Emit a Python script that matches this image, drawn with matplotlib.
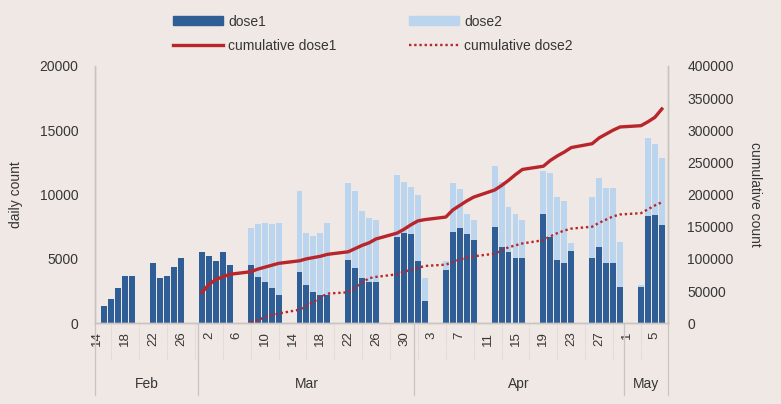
import numpy as np
import pandas as pd
import matplotlib
matplotlib.use('Agg')
import matplotlib.pyplot as plt
import matplotlib.dates as mdates
from matplotlib.transforms import blended_transform_factory
from matplotlib.lines import Line2D
from matplotlib.patches import Patch

# ---- data --------------------------------------------------------------
days = pd.bdate_range('2021-02-15', '2021-05-06')   # weekdays only

dose1 = [1300, 1900, 2700, 3700, 3700,
         4700, 3500, 3700, 4400, 5100,
         5500, 5200, 4800, 5500, 4500,
         4500, 3600, 3200, 2700, 2200,
         4000, 3000, 2400, 2200, 2200,
         4900, 4300, 3500, 3200, 3200,
         6700, 7000, 6900, 4800, 1700,
         4100, 7100, 7400, 6900, 6500,
         7500, 5900, 5500, 5100, 5100,
         8500, 6700, 4900, 4700, 5600,
         5100, 5900, 4700, 4700, 2800,
         2800, 8300, 8400, 7600]

dose2 = [0, 0, 0, 0, 0,
         0, 0, 0, 0, 0,
         0, 0, 0, 0, 0,
         2900, 4100, 4600, 5000, 5600,
         6300, 4000, 4400, 4800, 5600,
         6000, 6000, 5200, 5000, 4800,
         4800, 4000, 3700, 5200, 1800,
         700, 3800, 3000, 1600, 1500,
         4700, 5100, 3500, 3400, 2900,
         3300, 5000, 4900, 4800, 600,
         4700, 5400, 5800, 5800, 3500,
         200, 6100, 5500, 5200]

# cumulative totals, from 1 Mar (dose1) and 8 Mar (dose2)
cum1 = [48000, 60000, 68000, 72000, 76000,
        80000, 84000, 87000, 90000, 93000,
        97000, 100000, 102000, 104000, 107000,
        111000, 116000, 121000, 125000, 131000,
        140000, 146000, 153000, 159000, 161000,
        165000, 176000, 183000, 190000, 196000,
        207000, 214000, 222000, 231000, 239000,
        244000, 253000, 260000, 266000, 273000,
        279000, 288000, 294000, 300000, 305000,
        307000, 313000, 320000, 333000]

cum2 = [2000, 5000, 9000, 12000, 15000,
        21000, 27000, 33000, 40000, 46000,
        48000, 56000, 63000, 70000, 72000,
        76000, 80000, 83000, 86000, 89000,
        91000, 95000, 99000, 102000, 104000,
        108000, 113000, 118000, 121000, 124000,
        129000, 135000, 140000, 144000, 147000,
        150000, 156000, 161000, 166000, 169000,
        171000, 177000, 183000, 188000]

tick_days = pd.date_range('2021-02-14', '2021-05-05', freq='4D')
months = ['Feb', 'Mar', 'Apr', 'May']
month_starts = ['2021-03-01', '2021-04-01', '2021-05-01']

# ---- style ---------------------------------------------------------------
BG = '#EFE8E4'
DARK = '#2F5D95'
LIGHT = '#BCD5EE'
RED = '#B8262C'
INK = '#363636'
SPINE = '#C9C4C1'

plt.rcParams['font.family'] = ['Liberation Sans', 'DejaVu Sans']
plt.rcParams['font.size'] = 10

x = mdates.date2num(days)
c1_x = x[len(x) - len(cum1):]
c2_x = x[len(x) - len(cum2):]

fig = plt.figure(figsize=(7.81, 4.04), dpi=100, facecolor=BG)
ax = fig.add_axes([0.122, 0.200, 0.733, 0.637], facecolor=BG)
ax2 = ax.twinx()

ax.bar(x, dose1, width=0.85, color=DARK, linewidth=0, zorder=2)
ax.bar(x, dose2, width=0.85, bottom=dose1, color=LIGHT, linewidth=0, zorder=2)

ax2.plot(c1_x, cum1, color=RED, lw=2.4, solid_joinstyle='round')
ax2.plot(c2_x, cum2, color=RED, lw=1.7, ls=(0, (1, 1.2)))

x0 = mdates.date2num(pd.Timestamp('2021-02-14')) - 0.3
x1 = mdates.date2num(pd.Timestamp('2021-05-06')) + 0.85
ax.set_xlim(x0, x1)
ax.set_ylim(0, 20000)
ax2.set_ylim(0, 400000)
ax.set_yticks(range(0, 20001, 5000))
ax2.set_yticks(range(0, 400001, 50000))

for a in (ax, ax2):
    a.spines['top'].set_visible(False)
    for s in ('left', 'right', 'bottom'):
        a.spines[s].set_color(SPINE)
        a.spines[s].set_linewidth(1.0)
    a.tick_params(axis='y', length=0, colors=INK, labelsize=10)
ax.tick_params(axis='y', pad=12)
ax2.tick_params(axis='y', pad=14)

tx = mdates.date2num(tick_days)
ax.set_xticks(tx)
ax.set_xticklabels([str(d.day) for d in tick_days], rotation=90,
                   fontsize=9.5, color=INK)
ax.tick_params(axis='x', length=0, pad=6)

ax.set_ylabel('daily count', color=INK, fontsize=10, labelpad=12)
ax2.set_ylabel('cumulative count', color=INK, fontsize=10,
               rotation=270, labelpad=20)

# multi-level date axis: small separators and month blocks
trans = blended_transform_factory(ax.transData, ax.transAxes)
for t in tx[:-1] + 2:
    ax.plot([t, t], [0, -0.14], transform=trans, clip_on=False,
            color=SPINE, lw=0.6, ls=':')
edges = [x0] + [mdates.date2num(pd.Timestamp(m)) - 0.5 for m in month_starts] + [x1]
for e in edges:
    ax.plot([e, e], [0, -0.28], transform=trans, clip_on=False,
            color=SPINE, lw=0.9)
for name, a, b in zip(months, edges[:-1], edges[1:]):
    ax.text((a + b) / 2, -0.235, name, transform=trans, ha='center',
            va='center', fontsize=10, color=INK)

handles = [Patch(color=DARK), Line2D([], [], color=RED, lw=2.4),
           Patch(color=LIGHT), Line2D([], [], color=RED, lw=1.7, ls=(0, (1, 1.2)))]
labels = ['dose1', 'cumulative dose1', 'dose2', 'cumulative dose2']
fig.legend(handles, labels, ncol=2, frameon=False, loc='upper left',
           bbox_to_anchor=(0.205, 0.995), handlelength=3.6, handleheight=0.6,
           columnspacing=5.2, labelspacing=0.75, fontsize=10,
           labelcolor=INK, handletextpad=0.4)

fig.savefig('out.png', dpi=100, facecolor=BG)
